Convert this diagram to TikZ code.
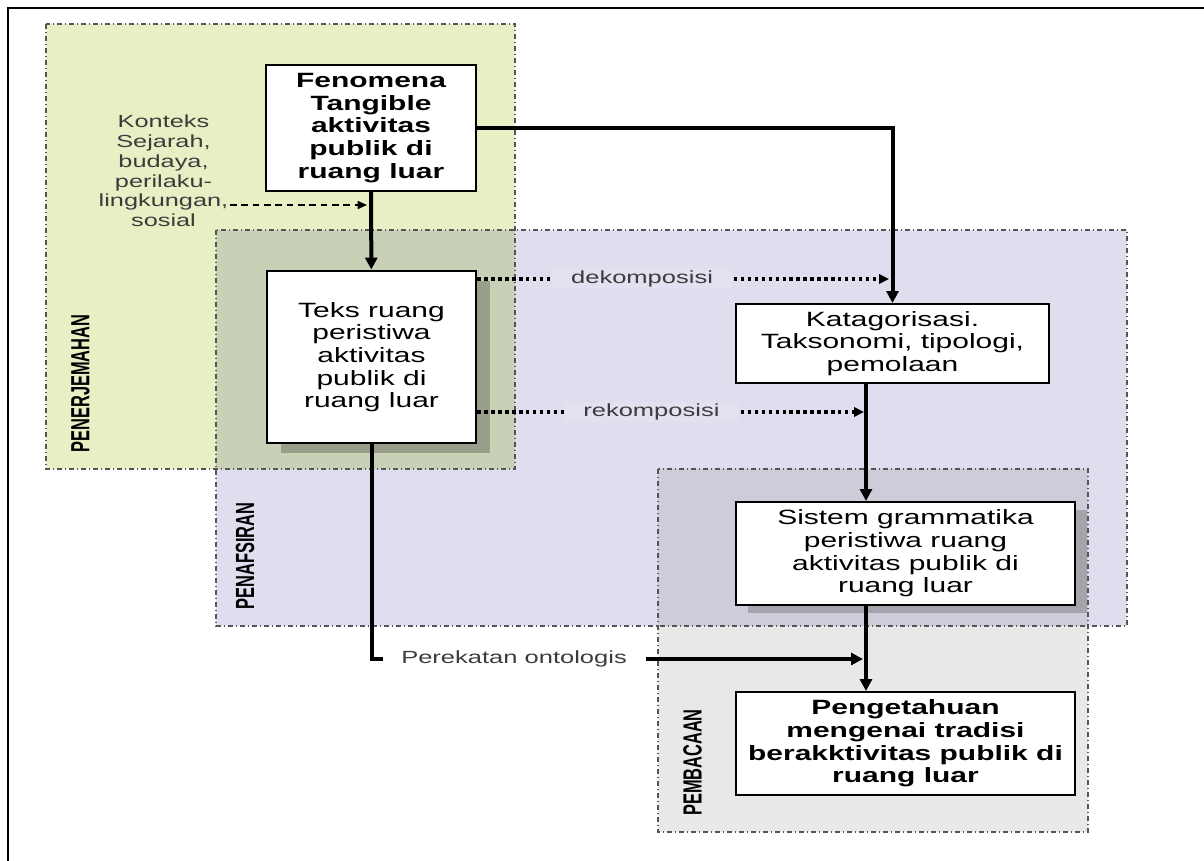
\documentclass[tikz,border=0pt]{standalone}
\usepackage{fontspec}
\usepackage{graphicx}
\setmainfont{Liberation Sans}[FakeStretch=1.45]
\newfontfamily\tagfont{Liberation Sans}
\usetikzlibrary{arrows.meta, shadows}

\definecolor{zonegreen}{RGB}{231,239,196}
\definecolor{zonelav}{RGB}{222,222,238}
\definecolor{zonegray}{RGB}{232,232,232}
\definecolor{zonegreenlav}{RGB}{200,208,181}
\definecolor{zonelavgray}{RGB}{205,205,217}
\definecolor{zoneline}{RGB}{85,85,85}
\definecolor{labelgray}{RGB}{60,60,60}
\definecolor{labelbg}{RGB}{225,225,240}

\tikzset{
    zone/.style={draw=zoneline, line width=0.8pt, dash pattern=on 4pt off 2pt on 1pt off 2pt},
    zonetag/.style={rotate=90, inner sep=0pt, font=\tagfont\bfseries\fontsize{12.3pt}{14pt}\selectfont},
    box/.style={draw, line width=1.5pt, fill=white, align=center, inner sep=2pt,
        font=\fontsize{15.5pt}{17pt}\selectfont},
    boldbox/.style={box, font=\bfseries\fontsize{15.5pt}{17pt}\selectfont},
    mainflow/.style={line width=3pt, ->},
    dotflow/.style={line width=2.6pt, dash pattern=on 2.6pt off 2.6pt,
        -{Triangle[length=7.5pt,width=7pt]}},
    ctxflow/.style={line width=1.2pt, dash pattern=on 5pt off 3.5pt,
        -{Triangle[length=7pt,width=6pt]}},
    flowlabel/.style={text=labelgray, inner xsep=14pt, inner ysep=1pt,
        font=\fontsize{13.2pt}{15pt}\selectfont}
}

\begin{document}
\begin{tikzpicture}[x=0.75pt, y=-0.75pt, >={Triangle[length=9pt,width=9pt]}]
    \useasboundingbox (0,0) rectangle (1204,861);

    % frame
    \draw[line width=2.2pt] (8,861) -- (8,8) -- (1204,8);

    % zones
    \fill[zonegreen] (46,24) rectangle (515,469);
    \fill[zonelav] (216,230) rectangle (1127,626);
    \fill[zonegray] (658,469) rectangle (1088,832);
    \fill[zonegreenlav] (216,230) rectangle (515,469);
    \fill[zonelavgray] (658,469) rectangle (1088,626);
    \draw[zone] (46,24) rectangle (515,469);
    \draw[zone] (216,230) rectangle (1127,626);
    \draw[zone] (658,469) rectangle (1088,832);

    \node[zonetag] (penerjemahan) at (80.5,383.5) {\scalebox{1}[1.6]{PENERJEMAHAN}};
    \node[zonetag] (penafsiran) at (245,556) {\scalebox{1}[1.6]{PENAFSIRAN}};
    \node[zonetag] (pembacaan) at (692.5,762.5) {\scalebox{1}[1.6]{PEMBACAAN}};

    % boxes
    \node[boldbox, minimum width=157.5pt, minimum height=94.5pt] (fen) at (371,128)
        {Fenomena\\Tangible\\aktivitas\\publik di\\ruang luar};
    \node[box, line width=2.2pt, minimum width=156.75pt, minimum height=129pt,
        general shadow={fill=black, fill opacity=0.24, shadow xshift=10.5pt, shadow yshift=-7.5pt}]
        (teks) at (371.5,357) {Teks ruang\\peristiwa\\aktivitas\\publik di\\ruang luar};
    \node[box, minimum width=234.75pt, minimum height=59.25pt] (kat) at (892.5,343.5)
        {Katagorisasi.\\Taksonomi, tipologi,\\pemolaan};
    \node[box, minimum width=254.25pt, minimum height=77.25pt,
        general shadow={fill=black, fill opacity=0.2, shadow xshift=9pt, shadow yshift=-6pt}]
        (sis) at (905.5,553.5) {Sistem grammatika\\peristiwa ruang\\aktivitas publik di\\ruang luar};
    \node[boldbox, minimum width=254.25pt, minimum height=77.25pt] (pen) at (905.5,743.5)
        {Pengetahuan\\mengenai tradisi\\berakktivitas publik di\\ruang luar};

    \node[align=center, text=labelgray, inner sep=1pt,
        font=\fontsize{13.1pt}{14.8pt}\selectfont] (konteks) at (163.5,171)
        {Konteks\\Sejarah,\\budaya,\\perilaku-\\lingkungan,\\sosial};

    \coordinate (kon) at (367,205);
    \coordinate (dekend) at (889,279);
    \coordinate (trunk) at (866,412);
    \coordinate (ontend) at (863,659);

    % connectors
    \draw[mainflow] (fen) -- (teks);
    \draw[ctxflow] (konteks.east |- kon) -- (kon);
    \draw[mainflow] (fen.east) -| (kat.north);
    \draw[dotflow] (teks.east |- dekend) -- node[pos=0.4, flowlabel, fill=labelbg] {dekomposisi} (dekend);
    \draw[dotflow] (teks.east |- trunk) -- node[pos=0.45, flowlabel, fill=labelbg] {rekomposisi} ([xshift=-1.5pt]trunk);
    \draw[mainflow] (kat.south -| trunk) -- (sis.north -| trunk);
    \draw[mainflow] (sis.south -| trunk) -- (pen.north -| trunk);
    \draw[mainflow] (teks.south) |- node[pos=0.645, flowlabel, fill=white] {Perekatan ontologis} (ontend);
\end{tikzpicture}
\end{document}
